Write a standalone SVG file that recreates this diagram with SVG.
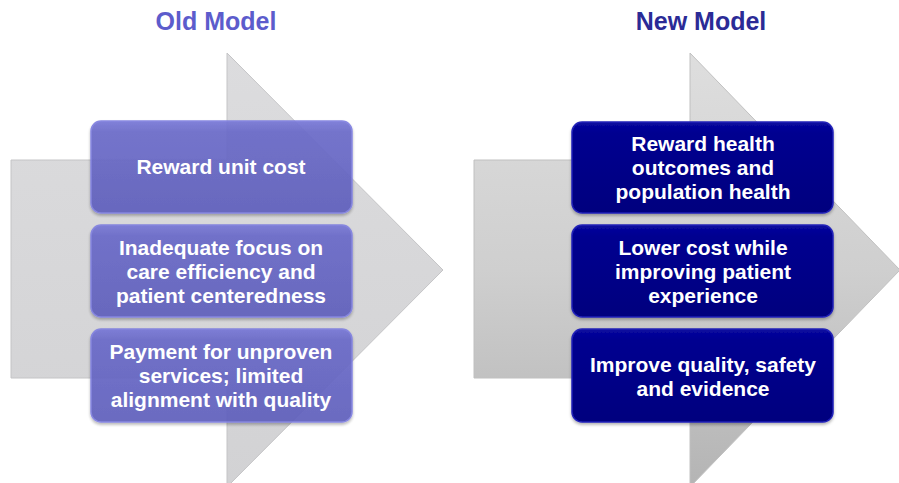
<svg xmlns="http://www.w3.org/2000/svg" width="899" height="483" viewBox="0 0 899 483">
<defs>
<linearGradient id="gL" x1="0" y1="0" x2="0" y2="1">
<stop offset="0" stop-color="#dcdcde"/>
<stop offset="1" stop-color="#d2d2d4"/>
</linearGradient>
<linearGradient id="gR" x1="0" y1="0" x2="0" y2="1">
<stop offset="0" stop-color="#dedede"/>
<stop offset="0.5" stop-color="#cfcfcf"/>
<stop offset="1" stop-color="#b4b4b4"/>
</linearGradient>
<linearGradient id="gP" x1="0" y1="0" x2="0" y2="1">
<stop offset="0" stop-color="#7878d6"/>
<stop offset="0.12" stop-color="#6a6ac8"/>
<stop offset="1" stop-color="#6060bc"/>
</linearGradient>
<linearGradient id="gN" x1="0" y1="0" x2="0" y2="1">
<stop offset="0" stop-color="#0a0aa0"/>
<stop offset="0.12" stop-color="#000090"/>
<stop offset="1" stop-color="#00007e"/>
</linearGradient>
<filter id="sh" x="-5%" y="-5%" width="110%" height="115%">
<feDropShadow dx="0" dy="2" stdDeviation="1.5" flood-color="#000" flood-opacity="0.3"/>
</filter>
</defs>
<style>
.t{font-family:"Liberation Sans",Arial,sans-serif;font-weight:bold;text-anchor:middle}
.title{font-size:25px}
.bt{font-size:21px;fill:#ffffff}
.old{fill:url(#gP);stroke:#8080e0;stroke-width:1.5;opacity:0.93}
.new{fill:url(#gN);stroke:#2020b8;stroke-width:1.5}
</style>
<g id="arrow-old">
<path d="M11,160 H227 V53 L443,270 L227,487 V378 H11 Z" fill="url(#gL)" stroke="#c4c4c6" stroke-width="1"/>
</g>
<g id="arrow-new">
<path d="M474,160 H690 V53 L900,270 L690,487 V378 H474 Z" fill="url(#gR)" stroke="#c0c0c0" stroke-width="1"/>
</g>
<g id="connectors"></g>
<g id="title-old"><text class="t title" x="216" y="30" fill="#5c5ccc">Old Model</text></g>
<g id="title-new"><text class="t title" x="701" y="30" fill="#2b2b96">New Model</text></g>
<g id="old1">
<rect class="old" x="91" y="121" width="261" height="92" rx="10" filter="url(#sh)"/>
<text class="t bt" x="221" y="174">Reward unit cost</text>
</g>
<g id="old2">
<rect class="old" x="91" y="225" width="261" height="92" rx="10" filter="url(#sh)"/>
<text class="t bt" x="221" y="255">Inadequate focus on</text>
<text class="t bt" x="221" y="279">care efficiency and</text>
<text class="t bt" x="221" y="303">patient centeredness</text>
</g>
<g id="old3">
<rect class="old" x="91" y="329" width="261" height="93" rx="10" filter="url(#sh)"/>
<text class="t bt" x="221" y="359">Payment for unproven</text>
<text class="t bt" x="221" y="383">services; limited</text>
<text class="t bt" x="221" y="407">alignment with quality</text>
</g>
<g id="new1">
<rect class="new" x="572" y="122" width="261" height="91" rx="10" filter="url(#sh)"/>
<text class="t bt" x="703" y="151">Reward health</text>
<text class="t bt" x="703" y="175">outcomes and</text>
<text class="t bt" x="703" y="199">population health</text>
</g>
<g id="new2">
<rect class="new" x="572" y="225" width="261" height="92" rx="10" filter="url(#sh)"/>
<text class="t bt" x="703" y="255">Lower cost while</text>
<text class="t bt" x="703" y="279">improving patient</text>
<text class="t bt" x="703" y="303">experience</text>
</g>
<g id="new3">
<rect class="new" x="572" y="329" width="261" height="93" rx="10" filter="url(#sh)"/>
<text class="t bt" x="703" y="372">Improve quality, safety</text>
<text class="t bt" x="703" y="396">and evidence</text>
</g>
</svg>
